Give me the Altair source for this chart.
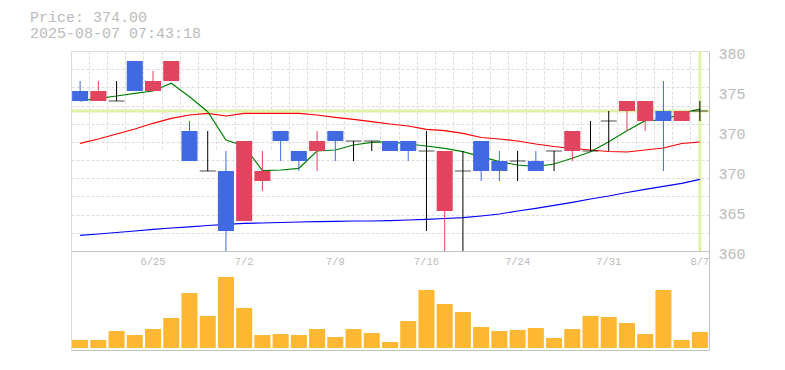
import altair as alt
import pandas as pd

# ---------------- data ----------------
dates = ["6/19", "6/20", "6/23", "6/24", "6/25", "6/26", "6/27", "6/30", "7/1", "7/2",
         "7/3", "7/4", "7/7", "7/8", "7/9", "7/10", "7/11", "7/14", "7/15", "7/16",
         "7/17", "7/18", "7/22", "7/23", "7/24", "7/25", "7/28", "7/29", "7/30", "7/31",
         "8/1", "8/4", "8/5", "8/6", "8/7"]
opens = [376, 375, 375, 379, 376, 377, 372, 368, 368, 363,
         367, 372, 370, 370, 372, 371, 371, 371, 371, 370,
         364, 368, 371, 369, 369, 369, 370, 370, 370, 373,
         374, 373, 374, 373, 374]
highs = [377, 377, 377, 379, 378, 379, 373, 372, 370, 371,
         370, 372, 370, 372, 372, 371, 371, 371, 371, 372,
         370, 370, 371, 370, 370, 370, 370, 372, 373, 374,
         375, 375, 377, 374, 375]
lows = [375, 375, 375, 376, 376, 377, 369, 368, 360, 363,
        366, 369, 368, 368, 369, 369, 370, 370, 369, 362,
        360, 360, 367, 367, 367, 368, 368, 369, 370, 370,
        372, 372, 368, 373, 373]
closes = [375, 376, 375, 376, 377, 379, 369, 368, 362, 371,
          368, 371, 369, 371, 371, 371, 371, 370, 370, 370,
          370, 368, 368, 368, 369, 368, 370, 372, 370, 373,
          375, 375, 373, 374, 374]
volumes = [8000, 8000, 17000, 13000, 19000, 30000, 55000, 32000, 71000, 40000,
           13000, 14000, 13000, 19000, 11000, 19000, 15000, 6000, 27000, 58000,
           44000, 36000, 21000, 17000, 18000, 20000, 10000, 19000, 32000, 31000,
           25000, 14000, 58000, 8000, 16000]
ma5 = [375.00, 375.27, 375.50, 375.77, 376.00, 376.77, 375.43, 373.93, 371.10, 370.50,
       368.03, 368.10, 368.27, 370.00, 370.10, 370.60, 370.87, 370.93, 370.70, 370.50,
       370.27, 369.93, 369.43, 368.93, 368.60, 368.43, 368.70, 369.27, 369.93, 370.93,
       372.03, 373.03, 373.10, 373.77, 374.20]
ma25 = [370.77, 371.20, 371.70, 372.20, 372.77, 373.27, 373.60, 373.77, 373.50, 373.77,
        373.77, 373.77, 373.77, 373.60, 373.37, 373.17, 372.93, 372.70, 372.50, 372.17,
        372.03, 371.77, 371.35, 371.20, 371.00, 370.70, 370.45, 370.25, 370.10, 369.95,
        369.90, 370.10, 370.30, 370.75, 370.90]
ma75 = [361.57, 361.70, 361.85, 362.00, 362.17, 362.30, 362.42, 362.55, 362.67, 362.77,
        362.80, 362.85, 362.90, 362.93, 362.97, 363.00, 363.00, 363.03, 363.10, 363.17,
        363.25, 363.33, 363.50, 363.70, 364.00, 364.27, 364.57, 364.87, 365.20, 365.50,
        365.85, 366.17, 366.47, 366.77, 367.17]
last_price = 374.00
timestamp = "2025-08-07 07:43:18"
label_dates = ["6/25", "7/2", "7/9", "7/16", "7/24", "7/31", "8/7"]
price_ticks = [360, 364, 368, 372, 376, 380]

# ---------------- styling ----------------
MONO = "Liberation Mono"
TXT = "#bbbbbb"
AXC = "#c4c4c4"
GRID = "#dddddd"
RED = "#e1445f"
BLUE = "#4169e1"
ORANGE = "#feb733"
HILITE = "#e0f2a8"

W, H = 638, 299
PRICE_H = 200

kind = ["up" if c > o else ("down" if c < o else "flat") for o, c in zip(opens, closes)]
df = pd.DataFrame({"date": dates, "open": opens, "high": highs, "low": lows,
                   "close": closes, "volume": volumes, "ma5": ma5, "ma25": ma25,
                   "ma75": ma75, "kind": kind})

pmin, pmax = min(price_ticks), max(price_ticks)
xscale = alt.Scale(domain=dates, paddingInner=0, paddingOuter=0)
pscale = alt.Scale(domain=[pmin, pmax], range=[PRICE_H, 0], nice=False, zero=False)
vscale = alt.Scale(domain=[-2000, 97000], range=[H, PRICE_H], nice=False, zero=False)
cscale = alt.Scale(domain=["up", "down", "flat"], range=[RED, BLUE, "#000000"])

grid_vals = [pmin + (pmax - pmin) * k / 11 for k in range(12)]

y_label_axis = alt.Axis(orient="right", values=price_ticks,
                        labelExpr="format(round(datum.value/5)*5, 'd')",
                        grid=False, ticks=False, domain=True, domainColor=AXC,
                        labelFont=MONO, labelFontSize=15, labelColor=TXT,
                        labelPadding=9, labelOffset=2, title=None)
y_grid_axis = alt.Axis(orient="left", values=grid_vals, grid=True, gridColor=GRID,
                       gridDash=[3, 2], gridWidth=1, labels=False, ticks=False,
                       domain=False, title=None)
x_label_axis = alt.Axis(orient="bottom", offset=-(H - PRICE_H), values=label_dates,
                        labelFont=MONO, labelFontSize=10.5, labelColor=TXT,
                        labelPadding=5, labelAngle=0, ticks=False, grid=False,
                        domain=True, domainColor=AXC, title=None)
x_grid_axis = alt.Axis(orient="bottom", grid=True, gridColor=GRID, gridDash=[3, 2],
                       bandPosition=0, labels=False, ticks=False, domain=True,
                       domainColor=AXC, title=None)
v_axis = alt.Axis(orient="right", labels=False, ticks=False, grid=False, domain=True,
                  domainColor=AXC, title=None)

base = alt.Chart(df)
X = alt.X("date:N", scale=xscale, sort=dates, axis=None)

hline = alt.Chart(pd.DataFrame({"p": [last_price]})).mark_rule(
    color=HILITE, strokeWidth=3).encode(
    y=alt.Y("p:Q", scale=pscale, axis=y_grid_axis))

vline = alt.Chart(pd.DataFrame({"date": [dates[-1]], "top": [pmax], "bot": [pmin]})).mark_rule(
    color=HILITE, strokeWidth=3).encode(
    x=X, y=alt.Y("top:Q", scale=pscale, axis=None), y2="bot:Q")

def ma_line(field, color):
    return base.mark_line(color=color, strokeWidth=1.2).encode(
        x=X, y=alt.Y(f"{field}:Q", scale=pscale, axis=None))

l75 = ma_line("ma75", "#0000ff")
l25 = ma_line("ma25", "#ff0000")
l5 = ma_line("ma5", "#008000")

wicks = base.mark_rule(strokeWidth=1).encode(
    x=X, y=alt.Y("low:Q", scale=pscale, axis=y_label_axis), y2="high:Q",
    color=alt.Color("kind:N", scale=cscale, legend=None))

bodies = base.transform_filter(alt.datum.kind != "flat").mark_bar(
    width=alt.RelativeBandSize(0.88)).encode(
    x=alt.X("date:N", scale=xscale, sort=dates, axis=x_label_axis),
    y=alt.Y("open:Q", scale=pscale, axis=None), y2="close:Q",
    color=alt.Color("kind:N", scale=cscale, legend=None))

doji = base.transform_filter(alt.datum.kind == "flat").mark_tick(
    orient="horizontal", size=16, thickness=1, color="#000000").encode(
    x=X, y=alt.Y("open:Q", scale=pscale, axis=None))

price = alt.layer(hline, vline, l75, l25, l5, wicks, bodies, doji).resolve_axis(
    x="independent", y="independent")

vol = base.mark_bar(color=ORANGE, width=alt.RelativeBandSize(0.88)).encode(
    x=alt.X("date:N", scale=xscale, sort=dates, axis=x_grid_axis),
    y=alt.Y("volume:Q", scale=vscale, axis=v_axis), y2=alt.datum(0))

chart = alt.layer(price, vol).resolve_scale(y="independent").resolve_axis(
    x="independent", y="independent").properties(
    width=W, height=H,
    padding={"left": 22, "top": 2, "right": 5, "bottom": 5},
    title=alt.TitleParams(text=f"Price: {last_price:.2f}", subtitle=timestamp,
                          anchor="start", frame="group", dx=-41, offset=5,
                          font=MONO, fontSize=15, fontWeight="normal", color=TXT,
                          subtitleFont=MONO, subtitleFontSize=15, subtitleColor=TXT,
                          subtitlePadding=1)
).configure_view(stroke=None).configure(background="white")

chart.save("out.html", embed_options={"renderer": "svg", "actions": False})
